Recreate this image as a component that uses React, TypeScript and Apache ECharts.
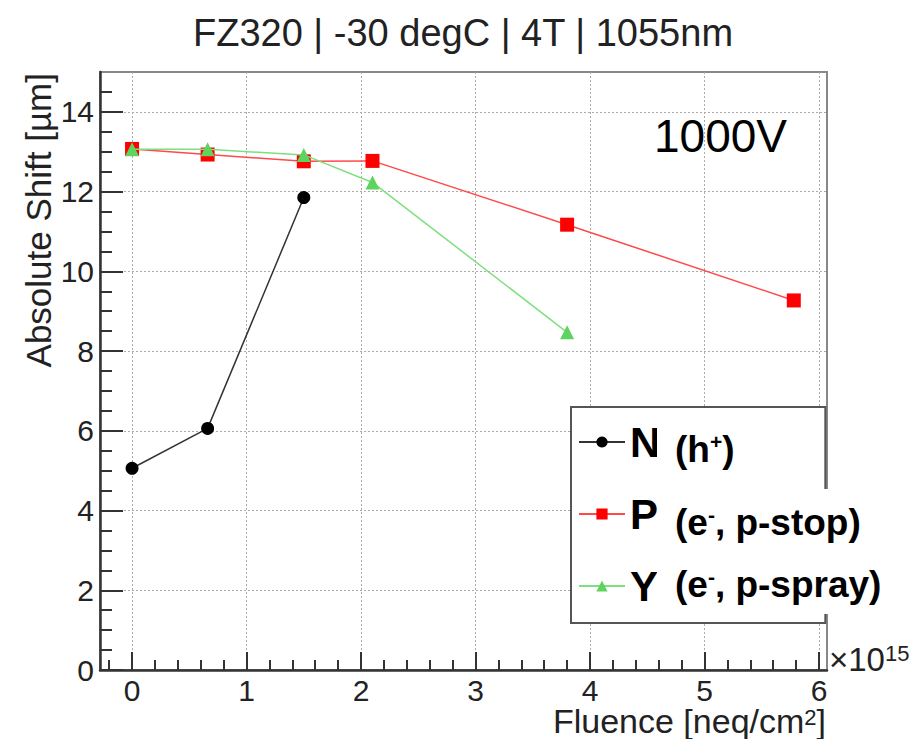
import React, { useEffect, useRef } from "react";
import * as echarts from "echarts";

// ---- data ----
const seriesNames = ["N", "P", "Y"];
const nValues: [number, number][] = [
  [0, 5.06],
  [0.66, 6.06],
  [1.5, 11.85],
];
const pValues: [number, number][] = [
  [0, 13.07],
  [0.66, 12.93],
  [1.5, 12.76],
  [2.1, 12.77],
  [3.8, 11.17],
  [5.78, 9.27],
];
const yValues: [number, number][] = [
  [0, 13.06],
  [0.66, 13.06],
  [1.5, 12.92],
  [2.1, 12.23],
  [3.8, 8.47],
];
const xMajorTicks = [0, 1, 2, 3, 4, 5, 6];
const xMinorTicks = [
  -0.2, 0.2, 0.4, 0.6, 0.8, 1.2, 1.4, 1.6, 1.8, 2.2, 2.4, 2.6, 2.8, 3.2, 3.4,
  3.6, 3.8, 4.2, 4.4, 4.6, 4.8, 5.2, 5.4, 5.6, 5.8,
];
const yMajorTicks = [0, 2, 4, 6, 8, 10, 12, 14];
const yMinorTicks = [
  0.5, 1, 1.5, 2.5, 3, 3.5, 4.5, 5, 5.5, 6.5, 7, 7.5, 8.5, 9, 9.5, 10.5, 11,
  11.5, 12.5, 13, 13.5, 14.5,
];
const legendNotes = ["(h", "(e", "(e"];
const legendNotesTail = [")", ", p-stop)", ", p-spray)"];
const legendSups = ["+", "-", "-"];

const FONT = "'Liberation Sans', Arial, Helvetica, sans-serif";

export default function App() {
  const ref = useRef<HTMLDivElement>(null);
  useEffect(() => {
    if (!ref.current) return;
    const chart = echarts.init(ref.current, undefined, { renderer: "svg" });
    const gridLine = { show: true, lineStyle: { color: "#aaa", width: 1, type: [2, 2] as any } };
    const axisCol = "#333";
    const option: any = {
      animation: false,
      backgroundColor: "#fff",
      grid: {
        left: 100,
        right: 95,
        top: 72,
        bottom: 69,
        show: true,
        borderColor: "#888",
        borderWidth: 2,
        backgroundColor: "#fff",
      },
      xAxis: [
        {
          type: "value",
          min: -0.28,
          max: 6.07,
          position: "bottom",
          axisLine: { show: true, onZero: false, lineStyle: { color: axisCol, width: 2.5 } },
          axisTick: {
            show: true,
            inside: true,
            length: 18,
            customValues: xMajorTicks,
            lineStyle: { color: axisCol, width: 2 },
          },
          axisLabel: {
            customValues: xMajorTicks,
            fontSize: 30,
            lineHeight: 24,
            fontFamily: FONT,
            color: "#222",
            margin: 8,
          },
          splitLine: gridLine,
        },
        {
          type: "value",
          min: -0.28,
          max: 6.07,
          position: "bottom",
          axisLine: { show: false, onZero: false },
          axisTick: {
            show: true,
            inside: true,
            length: 10,
            customValues: xMinorTicks,
            lineStyle: { color: axisCol, width: 2 },
          },
          axisLabel: { show: false },
          splitLine: { show: false },
        },
      ],
      yAxis: [
        {
          type: "value",
          min: 0,
          max: 15,
          position: "left",
          axisLine: { show: true, onZero: false, lineStyle: { color: axisCol, width: 2.5 } },
          axisTick: {
            show: true,
            inside: true,
            length: 23,
            customValues: yMajorTicks,
            lineStyle: { color: axisCol, width: 2 },
          },
          axisLabel: {
            customValues: yMajorTicks,
            fontSize: 30,
            fontFamily: FONT,
            color: "#222",
            margin: 6,
          },
          splitLine: gridLine,
        },
        {
          type: "value",
          min: 0,
          max: 15,
          position: "left",
          axisLine: { show: false, onZero: false },
          axisTick: {
            show: true,
            inside: true,
            length: 12,
            customValues: yMinorTicks,
            lineStyle: { color: axisCol, width: 2 },
          },
          axisLabel: { show: false },
          splitLine: { show: false },
        },
      ],
      legend: {
        show: true,
        z: 1,
        orient: "vertical",
        left: 571,
        top: 407,
        selectedMode: false,
        data: seriesNames,
        itemWidth: 46,
        itemHeight: 14,
        itemGap: 30,
        padding: [14, 165, 16, 7],
        backgroundColor: "#fff",
        borderColor: "#555",
        borderWidth: 2,
        borderRadius: 0,
        textStyle: {
          fontSize: 42,
          fontWeight: "bold",
          fontFamily: FONT,
          color: "#000",
          lineHeight: 40,
        },
      },
      series: [
        {
          name: seriesNames[0],
          type: "line",
          data: nValues,
          symbol: "circle",
          symbolSize: 13,
          itemStyle: { color: "#000" },
          lineStyle: { color: "#333", width: 1.5 },
          z: 3,
        },
        {
          name: seriesNames[1],
          type: "line",
          data: pValues,
          symbol: "rect",
          symbolSize: 14,
          itemStyle: { color: "#ff0000" },
          lineStyle: { color: "#ff4a4a", width: 1.5 },
          z: 4,
        },
        {
          name: seriesNames[2],
          type: "line",
          data: yValues,
          symbol: "triangle",
          symbolSize: 14,
          itemStyle: { color: "#5fd35f" },
          lineStyle: { color: "#7fdf7f", width: 1.5 },
          z: 5,
        },
      ],
      graphic: [
        {
          type: "text",
          x: 463,
          y: 33,
          style: {
            text: "FZ320 | -30 degC | 4T | 1055nm",
            font: `38px ${FONT}`,
            fill: "#222",
            align: "center",
            verticalAlign: "middle",
          },
        },
        {
          type: "text",
          x: 38,
          y: 73,
          rotation: Math.PI / 2,
          style: {
            text: "Absolute Shift [\u00b5m]",
            font: `35px ${FONT}`,
            fill: "#222",
            align: "right",
            verticalAlign: "middle",
          },
        },
        {
          type: "text",
          x: 826,
          y: 721,
          style: {
            text: "{a|Fluence [neq/cm}{s|2}{a|]}",
            align: "right",
            verticalAlign: "middle",
            rich: {
              a: { fontSize: 34, lineHeight: 30, fontFamily: FONT, fill: "#222" },
              s: { fontSize: 22, lineHeight: 20, fontFamily: FONT, fill: "#222", verticalAlign: "top" },
            },
          },
        },
        {
          type: "text",
          x: 829,
          y: 659,
          style: {
            text: "{a|\u00d710}{s|15}",
            align: "left",
            verticalAlign: "middle",
            rich: {
              a: { fontSize: 33, fontFamily: FONT, fill: "#222" },
              s: { fontSize: 22, fontFamily: FONT, fill: "#222", verticalAlign: "top" },
            },
          },
        },
        {
          type: "text",
          x: 654,
          y: 136,
          style: {
            text: "1000V",
            font: `46px ${FONT}`,
            fill: "#000",
            align: "left",
            verticalAlign: "middle",
          },
        },
        {
          type: "rect",
          z: 100,
          x: 657,
          y: 422,
          shape: { x: 0, y: 0, width: 90, height: 46 },
          style: { fill: "#fff" },
        },
        {
          type: "rect",
          z: 100,
          x: 657,
          y: 489,
          shape: { x: 0, y: 0, width: 236, height: 125 },
          style: { fill: "#fff" },
        },
        ...[449, 522, 584].map((yy, i) => ({
          type: "text",
          z: 101,
          x: 675,
          y: yy,
          style: {
            text: `{a|${legendNotes[i]}}{s|${legendSups[i]}}{a|${legendNotesTail[i]}}`,
            align: "left",
            verticalAlign: "middle",
            rich: {
              a: { fontSize: 37, fontWeight: "bold", fontFamily: FONT, fill: "#000" },
              s: { fontSize: 21, fontWeight: "bold", fontFamily: FONT, fill: "#000", verticalAlign: "top" },
            },
          },
        })),
      ],
    };
    chart.setOption(option);
    return () => chart.dispose();
  }, []);
  return <div ref={ref} style={{ width: 922, height: 739, position: "absolute", left: 0, top: 0 }} />;
}
